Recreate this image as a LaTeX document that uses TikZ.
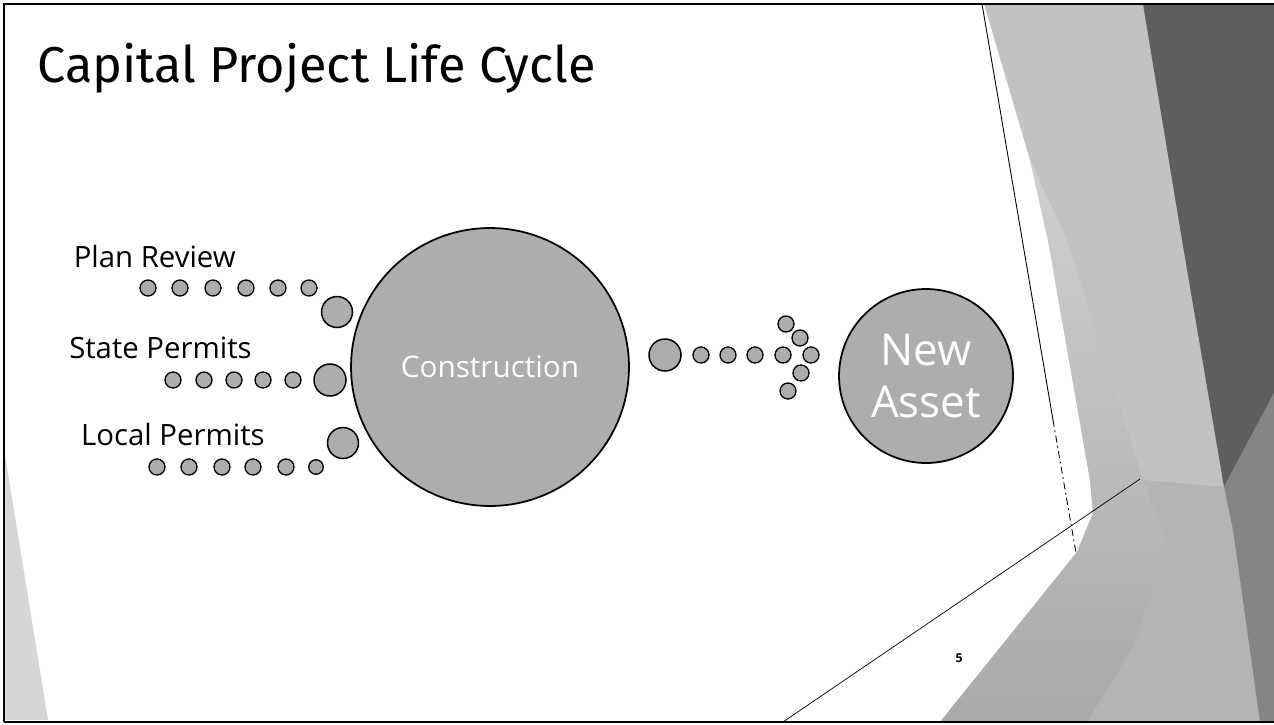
\documentclass[tikz,border=0pt]{standalone}
\usepackage{fontspec}
\setmainfont{Open Sans}
\newfontfamily\titlefont{Fira Sans}
\definecolor{dotgray}{HTML}{ADADAD}
\definecolor{bandgray}{HTML}{C2C2C2}
\definecolor{coarsetop}{HTML}{D0D0D0}
\definecolor{coarsebot}{HTML}{A9A9A9}
\definecolor{midgray}{HTML}{B4B4B4}
\definecolor{darkband}{HTML}{5E5E5E}
\definecolor{hatchgray}{HTML}{858585}
\definecolor{leftgray}{HTML}{D6D6D6}
\begin{document}
\begin{tikzpicture}[x=0.02cm,y=-0.02cm,
  sdot/.style={circle,draw=black,line width=0.75pt,fill=dotgray,minimum size=0.32cm,inner sep=0pt},
  mdot/.style={circle,draw=black,line width=0.85pt,fill=dotgray,minimum size=0.62cm,inner sep=0pt},
  bigcirc/.style={circle,draw=black,line width=1pt,fill=dotgray,inner sep=0pt,text=white,font=\fontsize{16.9}{20}\selectfont},
  lbl/.style={font=\fontsize{16.7}{20}\selectfont,inner sep=0pt},
  frame/.style={line width=1.2pt,draw=black}]
\useasboundingbox (0,0) rectangle (1274,724);
\fill[white] (0,0) rectangle (1274,724);
% right-hand decoration
\fill[bandgray] (984,4) -- (1274,4) -- (1274,722) -- (940,722) -- (1077,552) -- (1093,513) -- (1090,480) -- (1048,240) -- (1030,160) -- cycle;
\fill[midgray] (1143,480) -- (1224,487) -- (1233,530) -- (1260,722) -- (1087,722) -- (1133,647) -- (1167,547) -- cycle;
\shade[top color=coarsetop,bottom color=coarsebot] (1030,160) -- (1048,240) -- (1090,480) -- (1093,513) -- (1077,552) -- (940,722) -- (1087,722) -- (1133,647) -- (1167,547) -- (1143,480) -- (1067,240) -- cycle;
\fill[darkband] (1143,4) -- (1274,4) -- (1274,393) -- (1224,487) -- (1182,240) -- cycle;
\fill[hatchgray] (1274,393) -- (1224,487) -- (1233,530) -- (1260,722) -- (1274,722) -- cycle;
\coordinate (la) at (982,4);
\coordinate (lb) at (1053,420);
\coordinate (lc) at (1076,553);
\draw[line width=0.5pt] (la) -- (lb);
\draw[line width=0.5pt,dash pattern=on 4pt off 2pt on 1pt off 2pt] (lb) -- (lc);
\coordinate (da) at (783,722);
\coordinate (db) at (1140,479);
\draw[line width=0.4pt] (da) -- (db);
% left-bottom triangle
\fill[leftgray] (5,455) -- (48,720) -- (5,720) -- cycle;
% frame
\draw[frame] (4,722) -- (4,4) -- (1274,4);
\draw[frame] (4,722) -- (1274,722);
% title
\node[anchor=base west,inner sep=0pt,font=\titlefont\fontsize{28.7}{34}\selectfont] (title) at (37,82) {Capital Project Life Cycle};
% labels
\node[lbl,anchor=base east] (lplan) at (236,267) {Plan Review};
\node[lbl,anchor=base east] (lstate) at (252,358) {State Permits};
\node[lbl,anchor=base east] (llocal) at (265,445) {Local Permits};
% plan review dots
\node[sdot] (p1) at (148,288) {};
\node[sdot] (p2) at (180,288) {};
\node[sdot] (p3) at (213,288) {};
\node[sdot] (p4) at (246,288) {};
\node[sdot] (p5) at (278,288) {};
\node[sdot] (p6) at (309,288) {};
\node[mdot] (pb) at (337,312) {};
% state permit dots
\node[sdot] (s1) at (173,380) {};
\node[sdot] (s2) at (204,380) {};
\node[sdot] (s3) at (234,380) {};
\node[sdot] (s4) at (263,380) {};
\node[sdot] (s5) at (293,380) {};
\node[mdot,minimum size=0.64cm] (sb) at (330,380) {};
% local permit dots
\node[sdot] (q1) at (157,467) {};
\node[sdot] (q2) at (189,467) {};
\node[sdot] (q3) at (222,467) {};
\node[sdot] (q4) at (253,467) {};
\node[sdot] (q5) at (286,467) {};
\node[sdot,minimum size=0.29cm] (q6) at (316,467) {};
\node[mdot] (qb) at (343,443) {};
% construction
\node[bigcirc,minimum size=5.56cm] (cons) at (490,367) {Construction};
% arrow of dots
\node[mdot,minimum size=0.64cm] (a0) at (665,355) {};
\node[sdot] (a1) at (701,355) {};
\node[sdot] (a2) at (728,355) {};
\node[sdot] (a3) at (755,355) {};
\node[sdot] (a4) at (783,355) {};
\node[sdot] (a5) at (811,355) {};
\node[sdot] (a6) at (786,324) {};
\node[sdot] (a7) at (800,338) {};
\node[sdot] (a8) at (801,373) {};
\node[sdot] (a9) at (788,391) {};
% new asset
\node[bigcirc,minimum size=3.48cm,align=center,font=\fontsize{25}{29.5}\selectfont] (asset) at (926,376) {New\\Asset};
% page number
\node[font=\fontsize{7}{8}\selectfont\bfseries,inner sep=0pt] (pnum) at (959,658) {5};
\end{tikzpicture}
\end{document}
